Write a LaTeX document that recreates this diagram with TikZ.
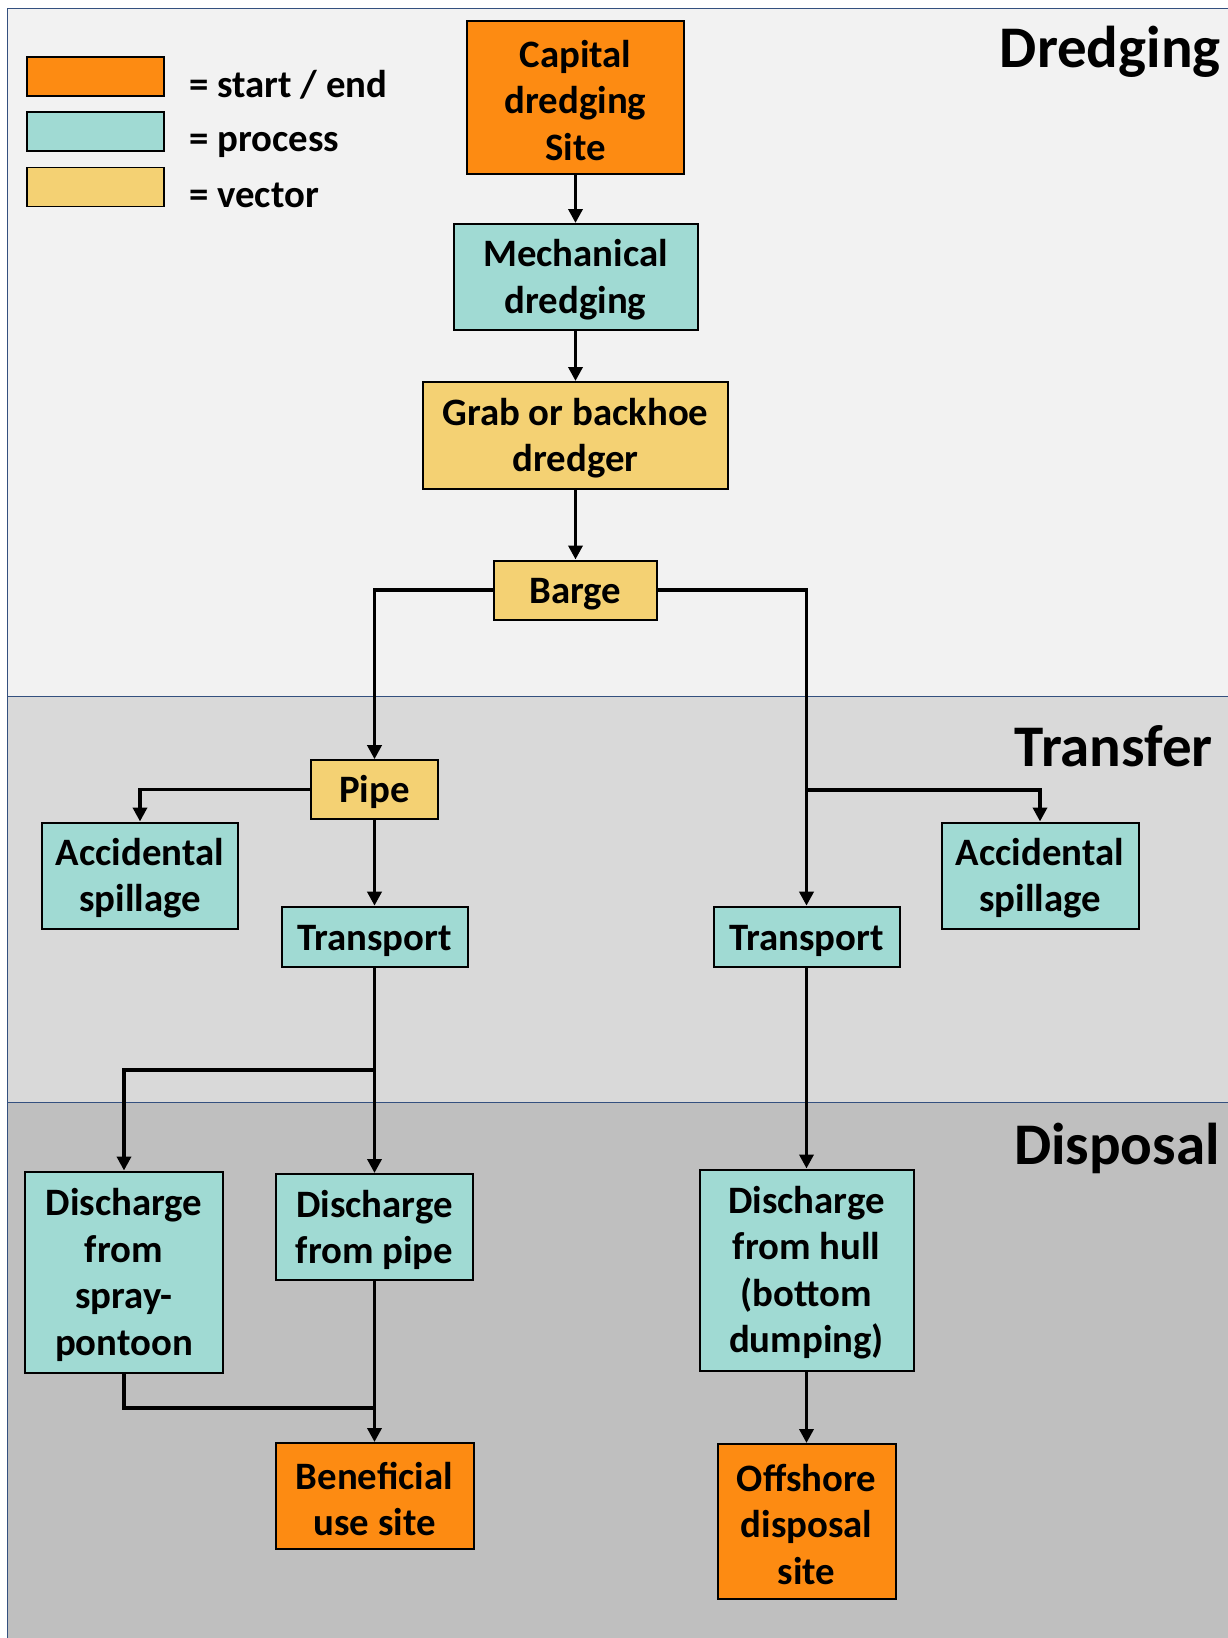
\documentclass[tikz,border=0pt]{standalone}
\usepackage{fontspec}
\setmainfont{Carlito}
\usetikzlibrary{arrows.meta}
\definecolor{orangeC}{HTML}{FD8B12}
\definecolor{tealC}{HTML}{A0DAD3}
\definecolor{yellowC}{HTML}{F4D173}
\definecolor{bandline}{HTML}{34507F}
\definecolor{bandA}{HTML}{F2F2F2}
\definecolor{bandB}{HTML}{D9D9D9}
\definecolor{bandC}{HTML}{BFBFBF}
\newcommand{\nodefnt}{\fontsize{38.8pt}{46.5pt}\selectfont\bfseries}
\newcommand{\bandfnt}{\fontsize{59pt}{62pt}\selectfont\bfseries}
\newcommand{\tsrut}{\rule{0pt}{33pt}}
\tikzset{
  box/.style={draw=black, line width=2pt, inner sep=0pt, align=center, font=\nodefnt},
  term/.style={box, fill=orangeC},
  proc/.style={box, fill=tealC},
  vect/.style={box, fill=yellowC},
  band/.style={draw=bandline, line width=1pt},
  lgbox/.style={draw=black, line width=1.8pt, inner sep=0pt, minimum width=137pt, minimum height=39pt},
  lgtext/.style={anchor=base west, inner sep=0pt, font=\nodefnt},
  bandlabel/.style={anchor=base east, inner sep=0pt, font=\bandfnt},
  conn/.style={line width=3.8pt, -{Triangle[length=14pt,width=14pt]}},
  plain/.style={line width=3.8pt}
}
\begin{document}
\begin{tikzpicture}[x=1pt,y=-1pt]
\useasboundingbox (0,0) rectangle (1228,1638);
\fill[white] (0,0) rectangle (1228,1638);
% bands
\path[band, fill=bandA] (7,8) rectangle (1245,696);
\path[band, fill=bandB] (7,696) rectangle (1245,1102);
\path[band, fill=bandC] (7,1102) rectangle (1245,1650);
\node[bandlabel] (lDredging) at (1221,67) {Dredging};
\node[bandlabel] (lTransfer) at (1213,766) {Transfer};
\node[bandlabel] (lDisposal) at (1220,1164) {Disposal};
% legend
\node[lgbox, fill=orangeC] (lg1) at (95.5,76.5) {};
\node[lgbox, fill=tealC] (lg2) at (95.5,131.5) {};
\node[lgbox, fill=yellowC] (lg3) at (95.5,187) {};
\node[lgtext] (lt1) at (189,97) {= start / end};
\node[lgtext] (lt2) at (189,151.5) {= process};
\node[lgtext] (lt3) at (189,207) {= vector};
% nodes
\node[term, minimum width=217pt, minimum height=153pt] (cap) at (575.5,97.5) {\tsrut Capital\\dredging\\Site};
\node[proc, minimum width=244pt, minimum height=106pt] (mech) at (575.5,277) {\tsrut Mechanical\\dredging};
\node[vect, minimum width=305pt, minimum height=107pt] (grab) at (575.5,435.5) {\tsrut Grab or backhoe\\dredger};
\node[vect, minimum width=163pt, minimum height=59pt] (barge) at (575.5,590) {\tsrut Barge};
\node[vect, minimum width=127pt, minimum height=58.6pt] (pipe) at (374.5,789.5) {\tsrut Pipe};
\node[proc, minimum width=196pt, minimum height=106pt] (accL) at (140,875.5) {\tsrut Accidental\\spillage};
\node[proc, minimum width=197pt, minimum height=106pt] (accR) at (1040,875.5) {\tsrut Accidental\\spillage};
\node[proc, minimum width=186pt, minimum height=60.6pt] (trL) at (374.5,937) {\tsrut Transport};
\node[proc, minimum width=186pt, minimum height=60.6pt] (trR) at (806.5,937) {\tsrut Transport};
\node[proc, minimum width=198pt, minimum height=201pt] (spray) at (124,1272) {\tsrut Discharge\\from\\spray-\\pontoon};
\node[proc, minimum width=197pt, minimum height=106pt] (dpipe) at (374.5,1227) {\tsrut Discharge\\from pipe};
\node[proc, minimum width=214pt, minimum height=201pt] (hull) at (806.5,1270) {\tsrut Discharge\\from hull\\(bottom\\dumping)};
\node[term, minimum width=198pt, minimum height=106pt] (ben) at (374.5,1496) {\tsrut Beneficial\\use site};
\node[term, minimum width=178pt, minimum height=155pt] (off) at (806.5,1521.5) {\tsrut Offshore\\disposal\\site};
% junctions
\coordinate (jR) at (806.5,790);
\coordinate (jL) at (374.5,1070);
\coordinate (jB) at (374.5,1408);
% connectors
\draw[conn] (cap) -- (mech);
\draw[conn] (mech) -- (grab);
\draw[conn] (grab) -- (barge);
\draw[conn] (barge.west) -| (pipe.north);
\draw[conn] (barge.east) -| (trR.north);
\draw[conn] (jR) -| (accR.north);
\draw[conn] (pipe.west) -| (accL.north);
\draw[conn] (pipe) -- (trL);
\draw[conn] (trL) -- (dpipe);
\draw[conn] (jL) -| (spray.north);
\draw[plain] (spray.south) |- (jB);
\draw[conn] (dpipe) -- (ben);
\draw[conn] (trR) -- (hull);
\draw[conn] (hull) -- (off);
\end{tikzpicture}
\end{document}
